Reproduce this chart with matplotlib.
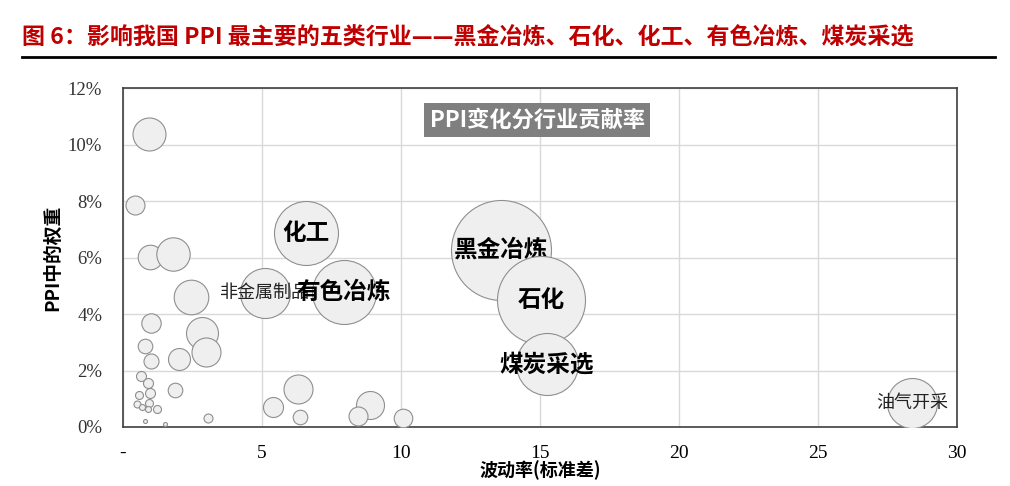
import numpy as np
import matplotlib.pyplot as plt
from matplotlib.lines import Line2D
from matplotlib.ticker import FuncFormatter

plt.rcParams['font.family'] = ['Noto Sans CJK SC', 'DejaVu Sans']

# bubble data: volatility (std), PPI weight (%), bubble radius (relative size)
vol = [0.94, 0.43, 0.97, 1.8, 2.45, 1.0, 2.84, 2.99, 0.8, 1.0, 2.0, 1.87,
       0.65, 0.9, 0.58, 0.97, 0.5, 0.68, 0.94, 1.22, 0.9, 0.8, 1.5,
       3.06, 6.3, 5.4, 6.37, 8.88, 8.45, 10.07,
       5.1, 6.58, 7.95, 13.6, 15.04, 15.25, 28.4]
weight = [10.37, 7.86, 6.02, 6.12, 4.6, 3.68, 3.33, 2.65, 2.87, 2.34, 2.4, 1.3,
          1.8, 1.56, 1.13, 1.2, 0.81, 0.71, 0.85, 0.64, 0.64, 0.2, 0.1,
          0.32, 1.35, 0.7, 0.35, 0.78, 0.39, 0.32,
          4.74, 6.87, 4.78, 6.27, 4.5, 2.23, 0.85]
radius = [16.5, 9.5, 12.3, 16.7, 17.3, 9.7, 16, 14.5, 7.3, 7.5, 11, 7.3,
          5, 5, 4, 5, 3.5, 3, 4, 4, 3, 2, 2,
          4.5, 14.5, 10, 7.3, 14, 9.5, 9.3,
          25, 32, 32, 50, 44, 31, 25]
labels = [''] * 30 + ['非金属制品', '化工', '有色冶炼', '黑金冶炼', '石化', '煤炭采选', '油气开采']
bold_labels = ['化工', '有色冶炼', '黑金冶炼', '石化', '煤炭采选']

xticks = [0, 5, 10, 15, 20, 25, 30]
xtick_labels = ['-', '5', '10', '15', '20', '25', '30']
yticks = [0, 2, 4, 6, 8, 10, 12]

fig = plt.figure(figsize=(10.1, 4.86), dpi=100)
ax = fig.add_axes([0.1218, 0.1214, 0.8257, 0.6975])

for i in range(len(vol)):
    s = (2 * radius[i] * 0.72) ** 2
    ax.scatter(vol[i], weight[i], s=s, c='#efefef', edgecolors='#8f8f8f',
               linewidths=0.8, zorder=2 + 2 * i)
    if labels[i]:
        if labels[i] in bold_labels:
            ax.text(vol[i], weight[i], labels[i], fontsize=17, fontweight='bold',
                    ha='center', va='center', zorder=3 + 2 * i)
        else:
            ax.text(vol[i], weight[i], labels[i], fontsize=13, color='#222222',
                    ha='center', va='center', zorder=3 + 2 * i)

ax.text(14.9, 10.87, 'PPI变化分行业贡献率', fontsize=16, fontweight='bold', color='white',
        ha='center', va='center', zorder=200,
        bbox=dict(boxstyle='square,pad=0.25', fc='#7f7f7f', ec='none'))

ax.set_xlim(0, 30)
ax.set_ylim(0, 12)
ax.set_xticks(xticks)
ax.set_xticklabels(xtick_labels)
ax.set_yticks(yticks)
ax.yaxis.set_major_formatter(FuncFormatter(lambda v, p: f'{int(v)}%'))
ax.grid(True, color='#d9d9d9', linewidth=1)
ax.set_axisbelow(True)
ax.tick_params(length=0)
ax.tick_params(axis='x', pad=13)
ax.tick_params(axis='y', pad=15)
for lab in ax.get_xticklabels():
    lab.set_fontfamily('Liberation Serif')
    lab.set_fontsize(14)
for lab in ax.get_yticklabels():
    lab.set_fontfamily('Liberation Serif')
    lab.set_fontsize(13.5)
    lab.set_color('#333333')
for sp in ax.spines.values():
    sp.set_color('#404040')
    sp.set_linewidth(1.2)

ax.set_ylabel('PPI中的权重', fontsize=13.5, fontweight='bold', labelpad=4)
ax.set_xlabel('波动率(标准差)', fontsize=13, fontweight='bold', labelpad=-1)

fig.text(0.022, 0.922, '图 6：影响我国 PPI 最主要的五类行业——黑金冶炼、石化、化工、有色冶炼、煤炭采选',
         fontsize=16.6, fontweight='bold', color='#c00000', ha='left', va='center')
fig.add_artist(Line2D([0.022, 0.985], [0.883, 0.883], color='black', linewidth=2))

fig.savefig('out.png', dpi=100)
